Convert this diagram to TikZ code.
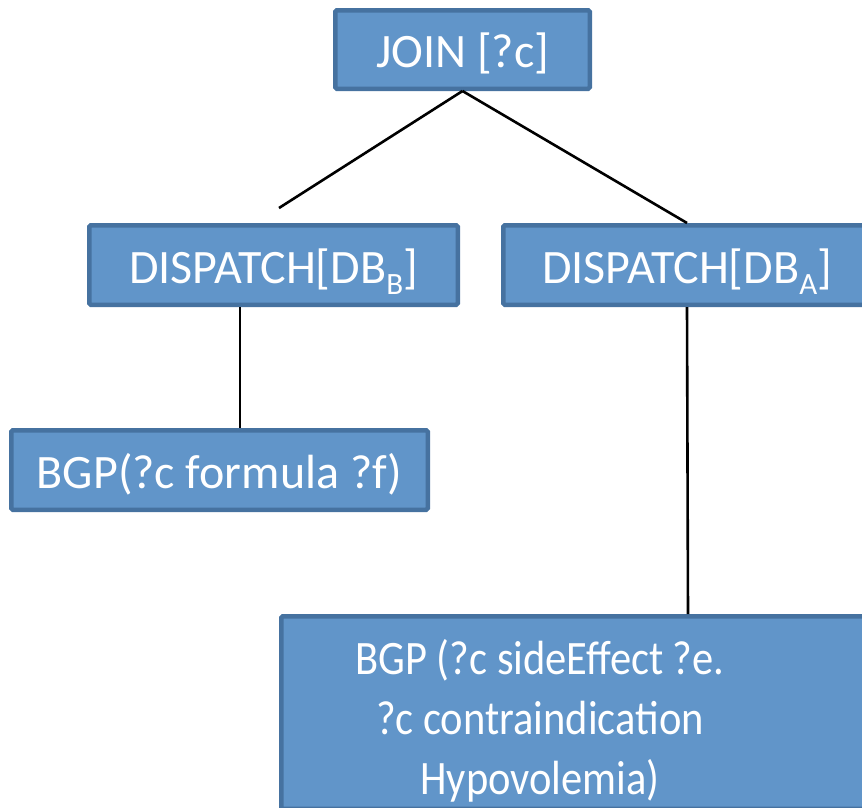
\documentclass[tikz,border=0pt]{standalone}
\usepackage{fontspec}
\setmainfont{Carlito}
\newfontfamily\narrowfont[FakeStretch=0.885]{Carlito}
\definecolor{boxfill}{RGB}{97,149,201}
\definecolor{boxedge}{RGB}{70,114,160}
% lowered, smaller index letter (DB_A, DB_B)
\newcommand{\lowidx}[1]{\raisebox{-11pt}{\fontsize{31}{31}\selectfont #1}}
\begin{document}
\begin{tikzpicture}[x=1pt,y=-1pt,
  opbox/.style={draw=boxedge, fill=boxfill, line width=4.5pt, rounded corners=1.5pt,
    text=white, font=\fontsize{48}{58}\selectfont, inner sep=0pt,
    text height=36pt, text depth=0pt},
  boxtext/.style={text=white, font=\narrowfont\fontsize{48}{60}\selectfont, align=center, inner sep=0pt},
  link/.style={line width=2.6pt, black}]
\useasboundingbox (0,0) rectangle (862,807);
\clip (0,0) rectangle (862,807);

% operator boxes
\node[opbox, minimum width=254.5pt, minimum height=78.5pt] (join) at (462.5,49.5) {JOIN [?c]};
\node[opbox, minimum width=368.5pt, minimum height=79.5pt] (dispb) at (273.5,265) {DISPATCH[DB\lowidx{B}]};
\node[opbox, minimum width=367.5pt, minimum height=79.5pt] (dispa) at (687,265) {DISPATCH[DB\lowidx{A}]};
\node[opbox, minimum width=416.5pt, minimum height=79.5pt] (bgpa) at (219.5,470) {BGP(?c formula ?f)};
\node[opbox, minimum width=813.5pt, minimum height=192.5pt] (bgpb) at (688,712.5) {};
\node[boxtext] (bgptext) at (540,721) {BGP (?c sideEffect ?e.\\?c contraindication\\Hypovolemia)};

% connectors
\coordinate (lend) at (279,208);
\coordinate (vx) at (240,0);
\draw[link] (join.south) -- (lend);
\draw[link] (join.south) -- (dispa.north);
\draw[link] (dispb.south -| vx) -- (bgpa.north -| vx);
\draw[link] (dispa.south) -- (bgpb.north);
\end{tikzpicture}
\end{document}
